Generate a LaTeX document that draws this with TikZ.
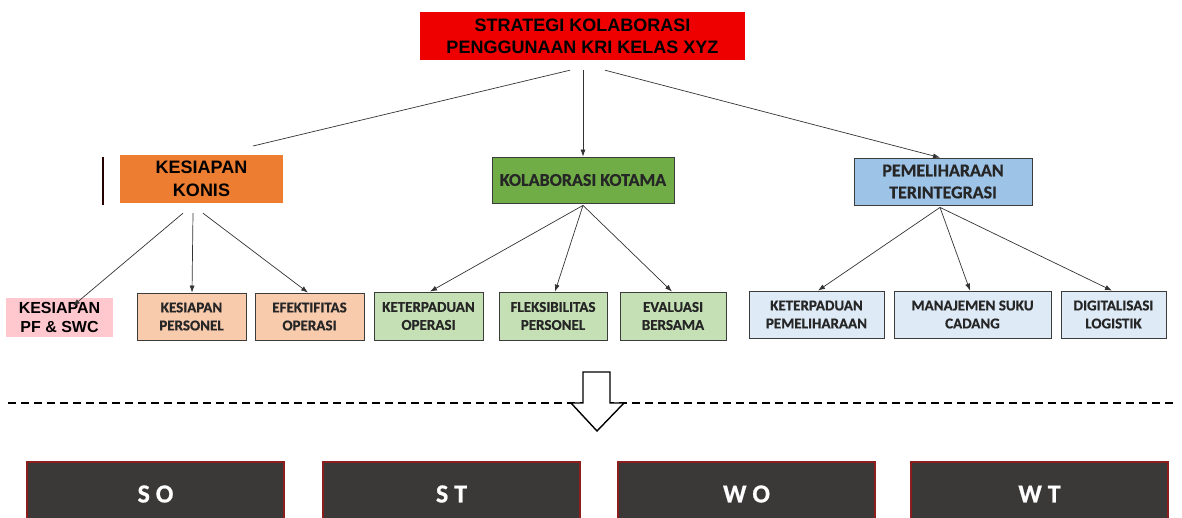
\documentclass[tikz,border=0pt]{standalone}
\usepackage{fontspec}
\setmainfont{Liberation Sans}
\newfontfamily\calib{Carlito}[BoldFont={Carlito Bold},BoldFeatures={FakeBold=0.6}]
\usetikzlibrary{arrows.meta}
\definecolor{topred}{RGB}{238,0,0}
\definecolor{konisor}{RGB}{237,125,49}
\definecolor{kotgreen}{RGB}{112,173,71}
\definecolor{pemblue}{RGB}{157,195,230}
\definecolor{pfpink}{RGB}{255,199,206}
\definecolor{peach}{RGB}{248,203,173}
\definecolor{lgreen}{RGB}{197,224,180}
\definecolor{lblue}{RGB}{222,235,247}
\definecolor{darkbox}{RGB}{59,56,56}
\definecolor{darkred}{RGB}{140,30,30}
\definecolor{edge}{RGB}{60,60,60}
\begin{document}
\begin{tikzpicture}[x=1pt,y=-1pt,
  plain/.style={inner sep=0pt,align=center},
  headA/.style={plain,font=\bfseries\fontsize{18}{23.5}\selectfont},
  headB/.style={plain,draw=edge,line width=0.8pt,font=\calib\bfseries\fontsize{18}{22}\selectfont,text=black!85},
  leaf/.style={plain,draw=edge,line width=0.8pt,font=\calib\bfseries\fontsize{15}{18}\selectfont,text=black!85},
  swot/.style={plain,fill=darkbox,draw=darkred,line width=1.2pt,text=white,minimum width=257pt,minimum height=64pt,font=\calib\bfseries\fontsize{26}{30}\selectfont},
  con/.style={draw=black!80,line width=0.7pt,-{Latex[length=7pt,width=5pt]}},
  link/.style={draw=black!80,line width=0.7pt}
]
\useasboundingbox (0,0) rectangle (1182,517);
\clip (0,0) rectangle (1182,517);

% top
\node[headA,fill=topred,minimum width=325pt,minimum height=48pt,font=\bfseries\fontsize{18}{22}\selectfont] (top) at (582.5,36) {STRATEGI KOLABORASI\\PENGGUNAAN KRI KELAS XYZ};

% level 1
\node[headA,fill=konisor,minimum width=163pt,minimum height=48pt] (konis) at (201.5,179) {KESIAPAN\\KONIS};
\draw[line width=1.1pt,draw=black!85!red] (103,157) -- (103,205);
\node[headB,fill=kotgreen,minimum width=182pt,minimum height=46pt] (kotama) at (583,180) {KOLABORASI KOTAMA};
\node[headB,fill=pemblue,minimum width=178pt,minimum height=47pt] (pemel) at (943,181.5) {PEMELIHARAAN\\TERINTEGRASI};

% level 2
\node[plain,fill=pfpink,minimum width=107pt,minimum height=39pt,font=\bfseries\fontsize{16}{19}\selectfont] (pf) at (59.5,317.5) {KESIAPAN\\PF \& SWC};
\node[leaf,fill=peach,minimum width=109pt,minimum height=47pt] (pers) at (191.5,316.5) {KESIAPAN\\PERSONEL};
\node[leaf,fill=peach,minimum width=109pt,minimum height=47pt] (efek) at (309.5,316.5) {EFEKTIFITAS\\OPERASI};
\node[leaf,fill=lgreen,minimum width=109pt,minimum height=48pt] (ketop) at (428.5,316) {KETERPADUAN\\OPERASI};
\node[leaf,fill=lgreen,minimum width=108pt,minimum height=48pt] (fleks) at (553,316) {FLEKSIBILITAS\\PERSONEL};
\node[leaf,fill=lgreen,minimum width=106pt,minimum height=48pt] (eval) at (673,316) {EVALUASI\\BERSAMA};
\node[leaf,fill=lblue,minimum width=135pt,minimum height=47pt] (ketpem) at (816.5,314.5) {KETERPADUAN\\PEMELIHARAAN};
\node[leaf,fill=lblue,minimum width=157pt,minimum height=47pt] (manaj) at (972.5,314.5) {MANAJEMEN SUKU\\CADANG};
\node[leaf,fill=lblue,minimum width=105pt,minimum height=47pt] (digit) at (1113.5,314.5) {DIGITALISASI\\LOGISTIK};

% connector starts / ends
\coordinate (tA) at ([xshift=-12.5pt,yshift=-10pt]top.south);
\coordinate (tB) at ([xshift=0.5pt,yshift=-10pt]top.south);
\coordinate (tC) at ([xshift=22.5pt,yshift=-10pt]top.south);
\coordinate (kend) at (253,146);
\coordinate (kA) at ([xshift=-18.5pt,yshift=-10pt]konis.south);
\coordinate (kB) at ([xshift=-8.5pt,yshift=-10pt]konis.south);
\coordinate (kC) at ([xshift=1.5pt,yshift=-10pt]konis.south);
\coordinate (oA) at ([yshift=-2pt]kotama.south);
\coordinate (pA) at ([xshift=-3pt,yshift=-2pt]pemel.south);

\draw[link] (tA) -- (kend);
\draw[con] (tB) -- (kotama.north);
\draw[con] (tC) -- ([xshift=-3pt]pemel.north);

\draw[con] (kA) -- ([xshift=13.5pt,yshift=-8pt]pf.north);
\draw[con] (kB) -- ([xshift=0.5pt]pers.north);
\draw[con] (kC) -- ([xshift=-1.5pt]efek.north);

\draw[con] (oA) -- ([xshift=1.5pt]ketop.north);
\draw[con] (oA) -- ([xshift=2pt]fleks.north);
\draw[con] (oA) -- ([xshift=-1pt]eval.north);

\draw[con] (pA) -- ([xshift=1.5pt]ketpem.north);
\draw[con] (pA) -- ([xshift=-2.5pt]manaj.north);
\draw[con] (pA) -- ([xshift=-1.5pt]digit.north);

% separator
\draw[line width=1.4pt,dash pattern=on 8pt off 5pt] (8,403) -- (1176,403);
\draw[line width=1.4pt,fill=white,line join=miter]
  (583,372) -- (610,372) -- (610,403) -- (624,403) -- (597,431) -- (571,403) -- (583,403) -- cycle;

% SWOT
\node[swot] (so) at (155.5,494) {S O};
\node[swot] (st) at (451.5,494) {S T};
\node[swot] (wo) at (746.5,494) {W O};
\node[swot] (wt) at (1039.5,494) {W T};
\end{tikzpicture}
\end{document}
